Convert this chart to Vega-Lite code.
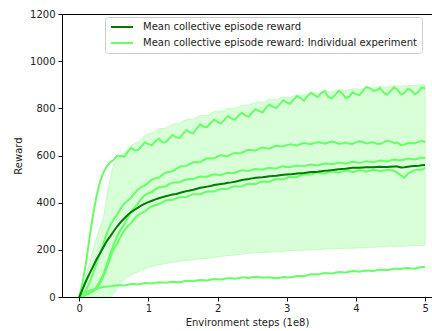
{
  "$schema": "https://vega.github.io/schema/vega-lite/v6.json",
  "width": 370,
  "height": 283,
  "autosize": {"type": "none"},
  "padding": {"left": 62, "top": 14, "right": 0, "bottom": 34},
  "config": {
    "view": {"stroke": "black", "strokeWidth": 1},
    "font": "DejaVu Sans",
    "axis": {
      "grid": false,
      "domainColor": "black",
      "domainWidth": 1,
      "tickColor": "black",
      "tickSize": 4,
      "labelFontSize": 10,
      "labelColor": "#222222",
      "titleFontSize": 10,
      "titleFontWeight": "normal",
      "titleColor": "#222222",
      "labelFont": "DejaVu Sans",
      "titleFont": "DejaVu Sans"
    }
  },
  "datasets": {
    "d": [
      {"x": 0, "A": 0, "B": 0, "C": 0, "D": 0, "E": 0, "m": 0, "lo": 0, "hi": 0},
      {"x": 0.05, "A": 65, "B": 12, "C": 5, "D": 4, "E": 12, "m": 35, "lo": 0, "hi": 40},
      {"x": 0.1, "A": 150, "B": 32, "C": 10, "D": 9, "E": 22, "m": 70, "lo": 0, "hi": 90},
      {"x": 0.15, "A": 255, "B": 62, "C": 18, "D": 16, "E": 28, "m": 100, "lo": 0, "hi": 145},
      {"x": 0.2, "A": 350, "B": 100, "C": 28, "D": 24, "E": 31, "m": 130, "lo": 0, "hi": 200},
      {"x": 0.25, "A": 428, "B": 142, "C": 44, "D": 36, "E": 35, "m": 160, "lo": 0, "hi": 250},
      {"x": 0.3, "A": 488, "B": 185, "C": 68, "D": 58, "E": 39, "m": 185, "lo": 0, "hi": 292},
      {"x": 0.35, "A": 528, "B": 228, "C": 98, "D": 88, "E": 42, "m": 212, "lo": 0, "hi": 335},
      {"x": 0.4, "A": 555, "B": 272, "C": 140, "D": 125, "E": 44, "m": 238, "lo": 0, "hi": 430},
      {"x": 0.45, "A": 572, "B": 305, "C": 185, "D": 168, "E": 46, "m": 258, "lo": 0, "hi": 505},
      {"x": 0.5, "A": 582, "B": 332, "C": 225, "D": 205, "E": 47, "m": 280, "lo": 15, "hi": 565},
      {"x": 0.55, "A": 600, "B": 350, "C": 259, "D": 228, "E": 50, "m": 300, "lo": 37, "hi": 586},
      {"x": 0.6, "A": 598, "B": 376, "C": 287, "D": 258, "E": 50, "m": 318, "lo": 60, "hi": 602},
      {"x": 0.65, "A": 594, "B": 396, "C": 308, "D": 282, "E": 49, "m": 333, "lo": 72, "hi": 612},
      {"x": 0.7, "A": 615, "B": 408, "C": 336, "D": 300, "E": 52, "m": 348, "lo": 85, "hi": 628},
      {"x": 0.75, "A": 632, "B": 421, "C": 362, "D": 314, "E": 55, "m": 360, "lo": 92, "hi": 643},
      {"x": 0.8, "A": 622, "B": 440, "C": 380, "D": 333, "E": 55, "m": 370, "lo": 100, "hi": 650},
      {"x": 0.85, "A": 623, "B": 457, "C": 397, "D": 348, "E": 53, "m": 379, "lo": 107, "hi": 659},
      {"x": 0.9, "A": 640, "B": 466, "C": 418, "D": 357, "E": 56, "m": 389, "lo": 115, "hi": 672},
      {"x": 0.95, "A": 656, "B": 473, "C": 432, "D": 363, "E": 59, "m": 396, "lo": 120, "hi": 685},
      {"x": 1.0, "A": 648, "B": 486, "C": 440, "D": 376, "E": 58, "m": 402, "lo": 125, "hi": 692},
      {"x": 1.05, "A": 644, "B": 498, "C": 445, "D": 385, "E": 57, "m": 408, "lo": 129, "hi": 695},
      {"x": 1.1, "A": 660, "B": 503, "C": 456, "D": 389, "E": 60, "m": 414, "lo": 133, "hi": 704},
      {"x": 1.15, "A": 671, "B": 506, "C": 464, "D": 393, "E": 62, "m": 419, "lo": 137, "hi": 713},
      {"x": 1.2, "A": 655, "B": 518, "C": 466, "D": 401, "E": 61, "m": 423, "lo": 140, "hi": 714},
      {"x": 1.25, "A": 657, "B": 527, "C": 469, "D": 409, "E": 60, "m": 427, "lo": 142, "hi": 716},
      {"x": 1.3, "A": 672, "B": 531, "C": 479, "D": 411, "E": 63, "m": 431, "lo": 145, "hi": 724},
      {"x": 1.35, "A": 687, "B": 533, "C": 485, "D": 411, "E": 65, "m": 435, "lo": 148, "hi": 733},
      {"x": 1.4, "A": 678, "B": 543, "C": 486, "D": 418, "E": 64, "m": 437, "lo": 150, "hi": 735},
      {"x": 1.45, "A": 675, "B": 552, "C": 487, "D": 423, "E": 63, "m": 441, "lo": 152, "hi": 736},
      {"x": 1.5, "A": 692, "B": 554, "C": 494, "D": 424, "E": 66, "m": 445, "lo": 154, "hi": 745},
      {"x": 1.55, "A": 708, "B": 556, "C": 499, "D": 424, "E": 69, "m": 449, "lo": 155, "hi": 752},
      {"x": 1.6, "A": 698, "B": 564, "C": 499, "D": 431, "E": 68, "m": 452, "lo": 157, "hi": 753},
      {"x": 1.65, "A": 694, "B": 571, "C": 501, "D": 436, "E": 67, "m": 455, "lo": 158, "hi": 754},
      {"x": 1.7, "A": 715, "B": 571, "C": 507, "D": 436, "E": 70, "m": 459, "lo": 160, "hi": 762},
      {"x": 1.75, "A": 732, "B": 572, "C": 511, "D": 436, "E": 72, "m": 463, "lo": 162, "hi": 769},
      {"x": 1.8, "A": 722, "B": 581, "C": 510, "D": 442, "E": 71, "m": 465, "lo": 163, "hi": 770},
      {"x": 1.85, "A": 721, "B": 588, "C": 510, "D": 447, "E": 70, "m": 468, "lo": 164, "hi": 771},
      {"x": 1.9, "A": 738, "B": 587, "C": 516, "D": 447, "E": 73, "m": 471, "lo": 166, "hi": 778},
      {"x": 1.95, "A": 752, "B": 588, "C": 520, "D": 447, "E": 76, "m": 475, "lo": 168, "hi": 786},
      {"x": 2.0, "A": 742, "B": 596, "C": 518, "D": 454, "E": 75, "m": 477, "lo": 170, "hi": 786},
      {"x": 2.05, "A": 736, "B": 601, "C": 517, "D": 459, "E": 74, "m": 479, "lo": 172, "hi": 786},
      {"x": 2.1, "A": 752, "B": 599, "C": 523, "D": 458, "E": 77, "m": 481, "lo": 174, "hi": 793},
      {"x": 2.15, "A": 767, "B": 598, "C": 527, "D": 459, "E": 80, "m": 484, "lo": 176, "hi": 799},
      {"x": 2.2, "A": 756, "B": 606, "C": 526, "D": 466, "E": 79, "m": 486, "lo": 177, "hi": 800},
      {"x": 2.25, "A": 752, "B": 611, "C": 526, "D": 470, "E": 77, "m": 489, "lo": 178, "hi": 800},
      {"x": 2.3, "A": 768, "B": 609, "C": 533, "D": 469, "E": 80, "m": 492, "lo": 180, "hi": 806},
      {"x": 2.35, "A": 781, "B": 611, "C": 537, "D": 469, "E": 83, "m": 496, "lo": 182, "hi": 813},
      {"x": 2.4, "A": 770, "B": 619, "C": 535, "D": 476, "E": 83, "m": 498, "lo": 184, "hi": 814},
      {"x": 2.45, "A": 764, "B": 624, "C": 534, "D": 480, "E": 81, "m": 500, "lo": 185, "hi": 814},
      {"x": 2.5, "A": 783, "B": 622, "C": 540, "D": 479, "E": 84, "m": 503, "lo": 187, "hi": 820},
      {"x": 2.55, "A": 796, "B": 621, "C": 543, "D": 479, "E": 86, "m": 506, "lo": 188, "hi": 826},
      {"x": 2.6, "A": 788, "B": 629, "C": 541, "D": 486, "E": 85, "m": 507, "lo": 189, "hi": 826},
      {"x": 2.65, "A": 782, "B": 634, "C": 541, "D": 490, "E": 82, "m": 508, "lo": 189, "hi": 826},
      {"x": 2.7, "A": 803, "B": 631, "C": 545, "D": 489, "E": 83, "m": 510, "lo": 190, "hi": 832},
      {"x": 2.75, "A": 816, "B": 630, "C": 548, "D": 489, "E": 84, "m": 512, "lo": 191, "hi": 838},
      {"x": 2.8, "A": 806, "B": 636, "C": 546, "D": 495, "E": 82, "m": 513, "lo": 192, "hi": 838},
      {"x": 2.85, "A": 802, "B": 641, "C": 545, "D": 500, "E": 80, "m": 514, "lo": 192, "hi": 837},
      {"x": 2.9, "A": 818, "B": 639, "C": 551, "D": 499, "E": 82, "m": 516, "lo": 193, "hi": 843},
      {"x": 2.95, "A": 834, "B": 638, "C": 554, "D": 499, "E": 85, "m": 518, "lo": 194, "hi": 848},
      {"x": 3.0, "A": 824, "B": 644, "C": 551, "D": 506, "E": 84, "m": 519, "lo": 195, "hi": 848},
      {"x": 3.05, "A": 819, "B": 648, "C": 550, "D": 510, "E": 83, "m": 520, "lo": 196, "hi": 847},
      {"x": 3.1, "A": 838, "B": 645, "C": 555, "D": 509, "E": 86, "m": 522, "lo": 197, "hi": 852},
      {"x": 3.15, "A": 852, "B": 643, "C": 558, "D": 509, "E": 89, "m": 524, "lo": 197, "hi": 857},
      {"x": 3.2, "A": 843, "B": 649, "C": 556, "D": 516, "E": 89, "m": 525, "lo": 198, "hi": 857},
      {"x": 3.25, "A": 833, "B": 653, "C": 554, "D": 520, "E": 88, "m": 526, "lo": 199, "hi": 856},
      {"x": 3.3, "A": 852, "B": 650, "C": 559, "D": 519, "E": 92, "m": 528, "lo": 200, "hi": 861},
      {"x": 3.35, "A": 866, "B": 648, "C": 562, "D": 519, "E": 96, "m": 530, "lo": 200, "hi": 866},
      {"x": 3.4, "A": 856, "B": 653, "C": 560, "D": 525, "E": 96, "m": 530, "lo": 201, "hi": 865},
      {"x": 3.45, "A": 848, "B": 657, "C": 558, "D": 528, "E": 95, "m": 531, "lo": 201, "hi": 863},
      {"x": 3.5, "A": 866, "B": 654, "C": 562, "D": 526, "E": 99, "m": 533, "lo": 202, "hi": 868},
      {"x": 3.55, "A": 873, "B": 650, "C": 566, "D": 524, "E": 102, "m": 535, "lo": 203, "hi": 872},
      {"x": 3.6, "A": 848, "B": 655, "C": 565, "D": 529, "E": 101, "m": 536, "lo": 204, "hi": 871},
      {"x": 3.65, "A": 842, "B": 659, "C": 563, "D": 532, "E": 100, "m": 538, "lo": 204, "hi": 869},
      {"x": 3.7, "A": 857, "B": 656, "C": 566, "D": 530, "E": 103, "m": 540, "lo": 205, "hi": 874},
      {"x": 3.75, "A": 874, "B": 650, "C": 570, "D": 528, "E": 106, "m": 542, "lo": 205, "hi": 878},
      {"x": 3.8, "A": 864, "B": 651, "C": 568, "D": 532, "E": 105, "m": 543, "lo": 206, "hi": 877},
      {"x": 3.85, "A": 844, "B": 655, "C": 565, "D": 536, "E": 104, "m": 544, "lo": 206, "hi": 875},
      {"x": 3.9, "A": 849, "B": 651, "C": 569, "D": 534, "E": 107, "m": 546, "lo": 207, "hi": 879},
      {"x": 3.95, "A": 868, "B": 649, "C": 573, "D": 530, "E": 110, "m": 548, "lo": 207, "hi": 883},
      {"x": 4.0, "A": 860, "B": 656, "C": 571, "D": 533, "E": 109, "m": 548, "lo": 208, "hi": 882},
      {"x": 4.05, "A": 856, "B": 660, "C": 568, "D": 537, "E": 107, "m": 548, "lo": 208, "hi": 880},
      {"x": 4.1, "A": 873, "B": 657, "C": 572, "D": 536, "E": 110, "m": 549, "lo": 209, "hi": 884},
      {"x": 4.15, "A": 891, "B": 651, "C": 576, "D": 532, "E": 112, "m": 550, "lo": 210, "hi": 888},
      {"x": 4.2, "A": 886, "B": 654, "C": 574, "D": 535, "E": 111, "m": 550, "lo": 211, "hi": 887},
      {"x": 4.25, "A": 875, "B": 656, "C": 571, "D": 539, "E": 110, "m": 550, "lo": 211, "hi": 885},
      {"x": 4.3, "A": 877, "B": 650, "C": 575, "D": 537, "E": 113, "m": 551, "lo": 212, "hi": 889},
      {"x": 4.35, "A": 886, "B": 649, "C": 579, "D": 533, "E": 116, "m": 552, "lo": 212, "hi": 893},
      {"x": 4.4, "A": 867, "B": 656, "C": 577, "D": 536, "E": 115, "m": 551, "lo": 213, "hi": 891},
      {"x": 4.45, "A": 858, "B": 662, "C": 575, "D": 540, "E": 114, "m": 551, "lo": 213, "hi": 888},
      {"x": 4.5, "A": 873, "B": 660, "C": 579, "D": 538, "E": 117, "m": 552, "lo": 214, "hi": 892},
      {"x": 4.55, "A": 889, "B": 653, "C": 583, "D": 534, "E": 120, "m": 553, "lo": 214, "hi": 896},
      {"x": 4.6, "A": 879, "B": 655, "C": 581, "D": 527, "E": 120, "m": 553, "lo": 215, "hi": 894},
      {"x": 4.65, "A": 859, "B": 644, "C": 580, "D": 515, "E": 119, "m": 549, "lo": 215, "hi": 892},
      {"x": 4.7, "A": 864, "B": 646, "C": 583, "D": 506, "E": 122, "m": 550, "lo": 216, "hi": 896},
      {"x": 4.75, "A": 884, "B": 653, "C": 587, "D": 522, "E": 123, "m": 552, "lo": 217, "hi": 899},
      {"x": 4.8, "A": 876, "B": 653, "C": 585, "D": 531, "E": 121, "m": 554, "lo": 218, "hi": 897},
      {"x": 4.85, "A": 859, "B": 651, "C": 583, "D": 538, "E": 120, "m": 555, "lo": 218, "hi": 895},
      {"x": 4.9, "A": 869, "B": 658, "C": 587, "D": 540, "E": 124, "m": 556, "lo": 219, "hi": 898},
      {"x": 4.95, "A": 889, "B": 662, "C": 591, "D": 540, "E": 127, "m": 559, "lo": 219, "hi": 901},
      {"x": 5.0, "A": 884, "B": 657, "C": 589, "D": 547, "E": 127, "m": 560, "lo": 220, "hi": 899}
    ]
  },
  "data": {"name": "d"},
  "layer": [
    {
      "mark": {"type": "area", "color": "#d9ffd9", "stroke": "#c4fcc4", "strokeWidth": 1, "clip": true},
      "encoding": {
        "x": {"field": "x", "type": "quantitative",
          "scale": {"domain": [-0.25, 5.1], "nice": false, "zero": false},
          "axis": {"title": "Environment steps (1e8)", "values": [0, 1, 2, 3, 4, 5], "format": "d", "labelPadding": 2, "titlePadding": 4, "labelFlush": false}},
        "y": {"field": "lo", "type": "quantitative",
          "scale": {"domain": [0, 1200], "nice": false},
          "axis": {"title": "Reward", "values": [0, 200, 400, 600, 800, 1000, 1200], "format": "d", "labelPadding": 3, "titlePadding": 6}},
        "y2": {"field": "hi"}
      }
    },
    {
      "transform": [{"fold": ["A", "B", "C", "D", "E"], "as": ["run", "val"]}],
      "mark": {"type": "line", "strokeWidth": 2, "clip": true},
      "encoding": {
        "x": {"field": "x", "type": "quantitative"},
        "y": {"field": "val", "type": "quantitative"},
        "detail": {"field": "run"},
        "color": {
          "datum": "Mean collective episode reward: Individual experiment",
          "scale": {"domain": ["Mean collective episode reward", "Mean collective episode reward: Individual experiment"], "range": ["#007a00", "#66ff66"]},
          "legend": {
            "orient": "none", "legendX": 43, "legendY": 3, "title": null,
            "symbolType": "M-1,0H4.5", "symbolSize": 64, "symbolStrokeWidth": 2,
            "labelFontSize": 10, "labelFont": "DejaVu Sans", "labelColor": "#222222",
            "labelOffset": 23, "padding": 5, "rowPadding": 6, "labelLimit": 400,
            "strokeColor": "#cccccc", "fillColor": "rgba(255,255,255,0.8)", "cornerRadius": 3
          }
        }
      }
    },
    {
      "mark": {"type": "line", "strokeWidth": 2, "clip": true},
      "encoding": {
        "x": {"field": "x", "type": "quantitative"},
        "y": {"field": "m", "type": "quantitative"},
        "color": {"datum": "Mean collective episode reward"}
      }
    }
  ]
}
